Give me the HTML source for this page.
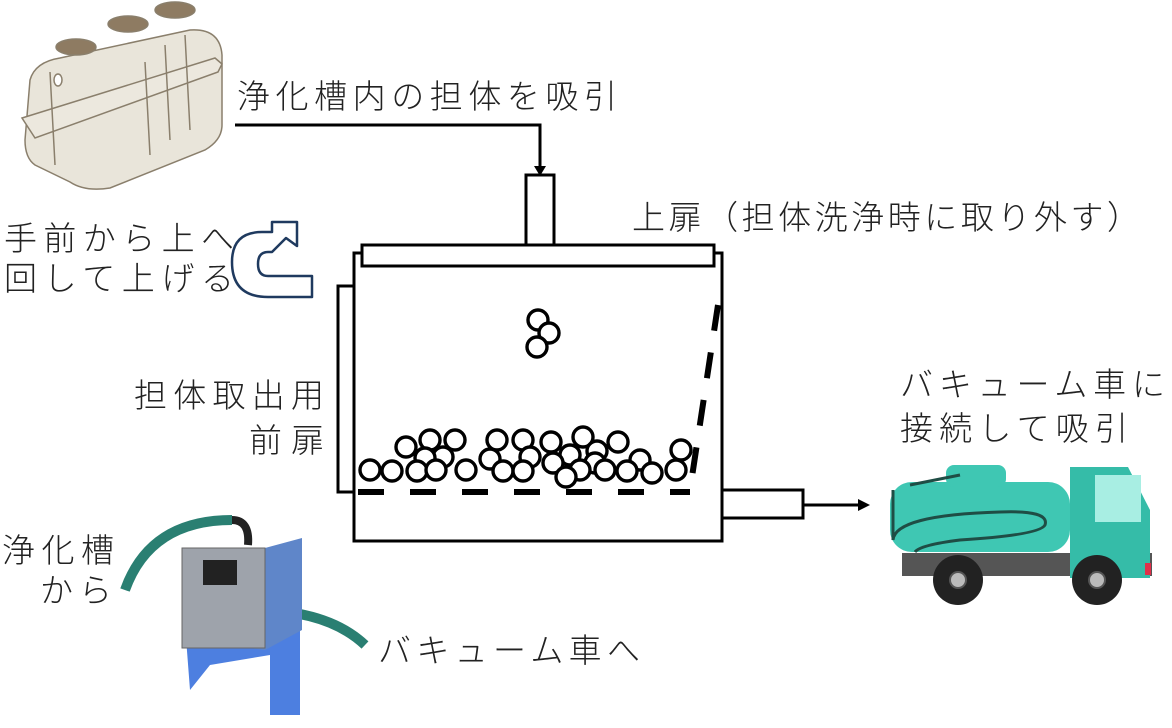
<!DOCTYPE html>
<html><head><meta charset="utf-8"><style>
html,body{margin:0;padding:0;background:#fff;}
svg{display:block;}
text{font-family:"Liberation Sans","Noto Sans CJK JP",sans-serif;fill:#222;font-weight:300;}
</style></head><body>
<svg width="1172" height="728" viewBox="0 0 1172 728" xmlns="http://www.w3.org/2000/svg">
<!-- septic tank -->
<g stroke="#8a7f6c" stroke-width="1.5">
<path d="M30,80 Q35,62 60,58 L190,30 Q220,28 222,55 L222,125 Q222,140 205,150 L110,188 Q85,192 70,182 L35,165 Q25,158 25,140 Z" fill="#e9e5da"/>
<path d="M22,118 L215,58 L222,64 L218,72 L35,138 Z" fill="#ece8de"/>
<path d="M50,72 L55,165 M145,62 L150,155 M165,45 L170,140 M185,35 L190,130" fill="none"/>
<ellipse cx="76" cy="47" rx="20" ry="8" fill="#8e7b62"/>
<ellipse cx="128" cy="24" rx="20" ry="8" fill="#8e7b62"/>
<ellipse cx="175" cy="10" rx="20" ry="8" fill="#8e7b62"/>
<ellipse cx="58" cy="80" rx="4" ry="6" fill="#fff"/>
</g>
<!-- curved arrow -->
<path d="M312,297 L268,297 Q232,297 232,262 Q232,232 262,232 L272,232 L272,222 L297,222 L297,246 L286,238 L272,252 L268,252 Q258,252 258,264 Q258,276 268,276 L312,276 Z" fill="#fff" stroke="#1f3a5f" stroke-width="2.5" stroke-linejoin="round"/>
<!-- texts -->
<text x="237" y="108" font-size="33" textLength="380" lengthAdjust="spacing">浄化槽内の担体を吸引</text>
<text x="632" y="229" font-size="33" textLength="508" lengthAdjust="spacing">上扉（担体洗浄時に取り外す）</text>
<text x="4" y="250" font-size="33" textLength="230" lengthAdjust="spacing">手前から上へ</text>
<text x="4" y="290" font-size="33" textLength="230" lengthAdjust="spacing">回して上げる</text>
<text x="134" y="407" font-size="33" textLength="190" lengthAdjust="spacing">担体取出用</text>
<text x="249" y="452" font-size="33" textLength="75" lengthAdjust="spacing">前扉</text>
<text x="462" y="405" font-size="33" textLength="150" lengthAdjust="spacing">回収担体</text>
<text x="392" y="531" font-size="33" textLength="300" lengthAdjust="spacing">バー式スクリーン</text>
<text x="900" y="396" font-size="33" textLength="265" lengthAdjust="spacing">バキューム車に</text>
<text x="900" y="440" font-size="33" textLength="228" lengthAdjust="spacing">接続して吸引</text>
<text x="2" y="562" font-size="33" textLength="112" lengthAdjust="spacing">浄化槽</text>
<text x="40" y="602" font-size="33" textLength="72" lengthAdjust="spacing">から</text>
<text x="378" y="662" font-size="33" textLength="262" lengthAdjust="spacing">バキューム車へ</text>
<!-- diagram -->
<g fill="none" stroke="#000" stroke-width="3">
<polyline points="235,125 540,125 540,166"/>
<rect x="526" y="175" width="28" height="70" fill="#fff"/>
<rect x="354" y="253" width="368" height="288" fill="#fff"/>
<rect x="362" y="245" width="352" height="21" fill="#fff"/>
<rect x="338" y="286" width="16" height="206" fill="#fff"/>
<rect x="722" y="490" width="81" height="28" fill="#fff"/>
<line x1="803" y1="505" x2="860" y2="505"/>
<line x1="358" y1="492" x2="690" y2="492" stroke-width="6" stroke-dasharray="26,26"/>
<line x1="718" y1="305" x2="690" y2="490" stroke-width="6" stroke-dasharray="26,22"/>
</g>
<path d="M534,166 L546,166 L540,176 Z"/>
<path d="M858,499 L870,505 L858,511 Z"/>
<g fill="#fff" stroke="#000" stroke-width="3.4">
<circle cx="538" cy="320" r="10"/><circle cx="549" cy="333" r="10"/><circle cx="537" cy="347" r="10"/>
<circle cx="430" cy="440" r="10"/><circle cx="455" cy="440" r="10"/><circle cx="497" cy="440" r="10"/><circle cx="523" cy="440" r="10"/><circle cx="551" cy="442" r="10"/><circle cx="583" cy="437" r="10"/><circle cx="618" cy="442" r="10"/><circle cx="406" cy="447" r="10"/><circle cx="681" cy="450" r="10"/>
<circle cx="443" cy="457" r="10"/><circle cx="490" cy="459" r="10"/><circle cx="530" cy="457" r="10"/><circle cx="570" cy="455" r="10"/><circle cx="597" cy="451" r="10"/><circle cx="640" cy="460" r="10"/><circle cx="595" cy="463" r="10"/><circle cx="425" cy="458" r="10"/>
<circle cx="370" cy="470" r="10"/><circle cx="392" cy="471" r="10"/><circle cx="417" cy="471" r="10"/><circle cx="436" cy="470" r="10"/><circle cx="466" cy="470" r="10"/><circle cx="503" cy="471" r="10"/><circle cx="523" cy="471" r="10"/><circle cx="553" cy="463" r="10"/><circle cx="580" cy="470" r="10"/><circle cx="605" cy="470" r="10"/><circle cx="627" cy="471" r="10"/><circle cx="652" cy="473" r="10"/><circle cx="676" cy="470" r="10"/><circle cx="566" cy="477" r="10"/>
</g>
<!-- device -->
<path d="M125,590 Q150,520 232,520" fill="none" stroke="#2a7f72" stroke-width="10"/>
<path d="M232,520 Q250,520 248,545" fill="none" stroke="#222" stroke-width="8"/>
<path d="M262,610 Q330,612 365,645" fill="none" stroke="#2a7f72" stroke-width="10"/>
<path d="M185,625 L300,625 L300,715 L270,715 L270,655 L210,665 L190,690 Z" fill="#4d7fe0"/>
<path d="M182,548 L265,548 L302,538 L302,630 L265,650 L182,640 Z" fill="#5f86c9"/>
<rect x="182" y="548" width="83" height="100" fill="#9ea3ab" stroke="#666"/>
<rect x="203" y="560" width="34" height="25" fill="#222"/>
<!-- truck -->
<rect x="902" y="553" width="250" height="23" fill="#555"/>
<rect x="890" y="482" width="180" height="70" rx="22" fill="#3fc7b3"/>
<rect x="946" y="465" width="60" height="22" rx="8" fill="#3fc7b3"/>
<path d="M1070,467 L1128,467 L1150,510 L1150,578 L1070,578 Z" fill="#35bca8"/>
<rect x="1095" y="475" width="46" height="47" fill="#a8eee3"/>
<rect x="1145" y="563" width="6" height="12" fill="#e0304a"/>
<path d="M910,485 L960,475 M893,490 L893,540 Q895,515 1000,512 Q1050,510 1045,525 Q1040,535 960,540 Q920,545 915,552" fill="none" stroke="#1f4d45" stroke-width="3"/>
<circle cx="958" cy="580" r="25" fill="#222"/><circle cx="958" cy="580" r="8" fill="#bbb" stroke="#555" stroke-width="2"/>
<circle cx="1097" cy="580" r="25" fill="#222"/><circle cx="1097" cy="580" r="8" fill="#bbb" stroke="#555" stroke-width="2"/>
</svg>
</body></html>
